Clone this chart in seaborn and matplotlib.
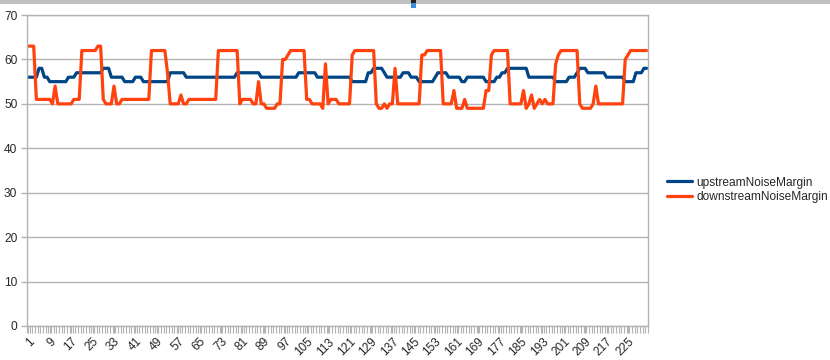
import numpy as np
import pandas as pd
import seaborn as sns
import matplotlib
matplotlib.use('Agg')
import matplotlib.pyplot as plt
from matplotlib.patches import Rectangle

# values (one per sample, 232 samples)
upstream = [
    56, 56, 56, 56, 58, 58, 56, 56, 55, 55,
    55, 55, 55, 55, 55, 56, 56, 56, 57, 57,
    57, 57, 57, 57, 57, 57, 57, 57, 58, 58,
    58, 56, 56, 56, 56, 56, 55, 55, 55, 55,
    56, 56, 56, 55, 55, 55, 55, 55, 55, 55,
    55, 55, 55, 57, 57, 57, 57, 57, 57, 56,
    56, 56, 56, 56, 56, 56, 56, 56, 56, 56,
    56, 56, 56, 56, 56, 56, 56, 56, 57, 57,
    57, 57, 57, 57, 57, 57, 57, 56, 56, 56,
    56, 56, 56, 56, 56, 56, 56, 56, 56, 56,
    56, 57, 57, 57, 57, 57, 57, 57, 56, 56,
    56, 56, 56, 56, 56, 56, 56, 56, 56, 56,
    56, 55, 55, 55, 55, 55, 55, 57, 57, 58,
    58, 58, 58, 57, 56, 56, 56, 56, 56, 56,
    57, 57, 57, 56, 56, 56, 55, 55, 55, 55,
    55, 55, 56, 57, 57, 57, 57, 56, 56, 56,
    56, 56, 55, 55, 56, 56, 56, 56, 56, 56,
    56, 55, 55, 55, 55, 56, 56, 57, 57, 58,
    58, 58, 58, 58, 58, 58, 58, 56, 56, 56,
    56, 56, 56, 56, 56, 56, 56, 55, 55, 55,
    55, 55, 56, 56, 56, 57, 58, 58, 58, 57,
    57, 57, 57, 57, 57, 57, 56, 56, 56, 56,
    56, 56, 56, 55, 55, 55, 55, 57, 57, 57,
    58, 58,
]
downstream = [
    63, 63, 63, 51, 51, 51, 51, 51, 51, 50,
    54, 50, 50, 50, 50, 50, 50, 51, 51, 51,
    62, 62, 62, 62, 62, 62, 63, 63, 51, 50,
    50, 50, 54, 50, 50, 51, 51, 51, 51, 51,
    51, 51, 51, 51, 51, 51, 62, 62, 62, 62,
    62, 62, 57, 50, 50, 50, 50, 52, 50, 50,
    51, 51, 51, 51, 51, 51, 51, 51, 51, 51,
    51, 62, 62, 62, 62, 62, 62, 62, 62, 50,
    51, 51, 51, 51, 50, 50, 55, 50, 50, 49,
    49, 49, 49, 50, 50, 60, 60, 61, 62, 62,
    62, 62, 62, 62, 51, 51, 50, 50, 50, 50,
    49, 59, 50, 51, 51, 51, 50, 50, 50, 50,
    50, 61, 62, 62, 62, 62, 62, 62, 62, 62,
    50, 49, 49, 50, 49, 50, 50, 58, 50, 50,
    50, 50, 50, 50, 50, 50, 50, 61, 61, 62,
    62, 62, 62, 62, 62, 50, 50, 50, 50, 53,
    49, 49, 49, 51, 49, 49, 49, 49, 49, 49,
    49, 53, 53, 61, 62, 62, 62, 62, 62, 62,
    50, 50, 50, 50, 50, 53, 49, 50, 52, 49,
    50, 51, 50, 51, 50, 50, 50, 59, 61, 62,
    62, 62, 62, 62, 62, 62, 50, 49, 49, 49,
    49, 50, 54, 50, 50, 50, 50, 50, 50, 50,
    50, 50, 50, 60, 61, 62, 62, 62, 62, 62,
    62, 62,
]
series_names = ["upstreamNoiseMargin", "downstreamNoiseMargin"]
tick_labels = ["1", "9", "17", "25", "33", "41", "49", "57", "65", "73",
               "81", "89", "97", "105", "113", "121", "129", "137", "145",
               "153", "161", "169", "177", "185", "193", "201", "209",
               "217", "225"]
y_ticks = [0, 10, 20, 30, 40, 50, 60, 70]
colors = ["#004586", "#ff420e"]
grey = "#b3b3b3"

sns.set_theme(style="white")
plt.rcParams['font.family'] = ['Liberation Sans', 'DejaVu Sans']

n = len(upstream)
idx = np.arange(1, n + 1)
df = pd.DataFrame({
    'sample': np.concatenate([idx, idx]),
    'value': upstream + downstream,
    'series': [series_names[0]] * n + [series_names[1]] * n,
})

fig = plt.figure(figsize=(8.3, 3.6), dpi=100)
ax = fig.add_axes([27 / 830, 1 - 326 / 360, (648 - 27) / 830, (326 - 15) / 360])

sns.lineplot(ax=ax, data=df, x='sample', y='value', hue='series',
             hue_order=series_names, palette=colors, linewidth=2.3,
             estimator=None, errorbar=None, legend=False)
for ln in ax.get_lines():
    ln.set_solid_joinstyle('round')
    ln.set_solid_capstyle('round')

ax.set_xlim(0.5, n + 0.5)
ax.set_ylim(0, 70)
ax.set_yticks(y_ticks)
ax.set_yticklabels([str(v) for v in y_ticks], fontsize=8.6)
ax.yaxis.grid(True, color=grey, lw=1)
ax.xaxis.grid(False)
ax.set_axisbelow(True)

major = [int(t) for t in tick_labels]
ax.set_xticks(major)
ax.set_xticklabels(tick_labels, rotation=45, ha='right', rotation_mode='anchor', fontsize=8.6)
ax.set_xticks(np.arange(0.5, n + 1, 1.0), minor=True)
ax.tick_params(axis='x', which='both', length=5, width=0.8, color=grey,
               direction='out', bottom=True, pad=2)
ax.tick_params(axis='y', length=4, width=1, color=grey, direction='out', left=True, pad=3)
ax.set_xlabel("")
ax.set_ylabel("")
for s in ax.spines.values():
    s.set_color(grey)
    s.set_linewidth(1)

handles = ax.get_lines()[:2]
fig.legend(handles, series_names, loc='center left',
           bbox_to_anchor=(667 / 830, 1 - 190 / 360), frameon=False,
           fontsize=8.6, handlelength=2.1, handletextpad=0.35,
           labelspacing=0.25, borderpad=0, borderaxespad=0)

# window chrome visible at the top of the screenshot
fig.add_artist(Rectangle((0, 1 - 4 / 360), 1, 4 / 360, transform=fig.transFigure,
                         color="#c0c0c0", lw=0))
fig.add_artist(Rectangle((411 / 830, 1 - 3 / 360), 5 / 830, 3 / 360,
                         transform=fig.transFigure, color="#222222", lw=0))
fig.add_artist(Rectangle((411 / 830, 1 - 8 / 360), 5 / 830, 5 / 360,
                         transform=fig.transFigure, color="#3a8fd8", lw=0))

fig.savefig("out.png", dpi=100)
